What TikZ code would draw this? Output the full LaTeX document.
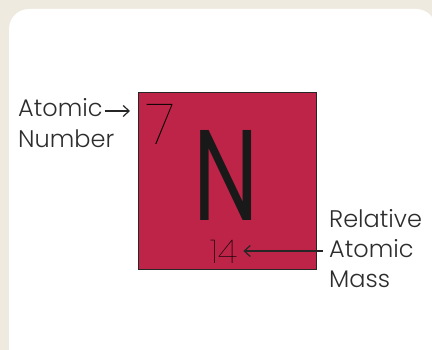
\documentclass[tikz,border=0pt]{standalone}
\usepackage{fontspec}
\setmainfont{Poppins}[UprightFont=* Light, BoldFont=*]
\newfontfamily\handthin{Poppins Thin}
\usetikzlibrary{arrows.meta}
\definecolor{bgbeige}{RGB}{238,234,224}
\definecolor{crimson}{RGB}{190,36,72}
\definecolor{labelgray}{RGB}{45,45,45}
\begin{document}
\begin{tikzpicture}[x=1pt,y=1pt,
  lbl/.style={inner sep=0pt, anchor=base west, text=labelgray, font=\fontsize{24}{30}\selectfont},
  pointer/.style={draw=black!85, line width=1.2pt, -{Straight Barb[length=6pt,width=11pt]}}]
\useasboundingbox (0,0) rectangle (432,350);
\fill[bgbeige] (0,0) rectangle (432,350);
\fill[white, rounded corners=20pt] (9,-40) rectangle (436,341);
\draw[fill=crimson, draw=black!85, line width=1pt] (138,80) rectangle (316,257);
\node[inner sep=0pt, font=\handthin\fontsize{57}{60}\selectfont] (z) at (161,226) {7};
\node[inner sep=0pt, font=\bfseries\fontsize{129}{130}\selectfont, text=black!90] (sym) at (226,175) {\scalebox{0.72}[1]{N}};
\node[inner sep=0pt, font=\handthin\fontsize{33}{36}\selectfont] (m) at (224,98) {14};
\node[lbl] (at1) at (18,233) {Atomic};
\node[lbl] (at2) at (18,202) {Number};
\node[lbl] (r1) at (329,122) {Relative};
\node[lbl] (r2) at (329,92) {Atomic};
\node[lbl] (r3) at (329,62) {Mass};
\coordinate (zin) at (130,239);
\draw[pointer] (at1.east |- zin) ++(2,0) -- (zin);
\draw[pointer] (r2.west |- 0,99) ++(-6,0) -- ([xshift=6pt]m.east |- 0,99);
\end{tikzpicture}
\end{document}
